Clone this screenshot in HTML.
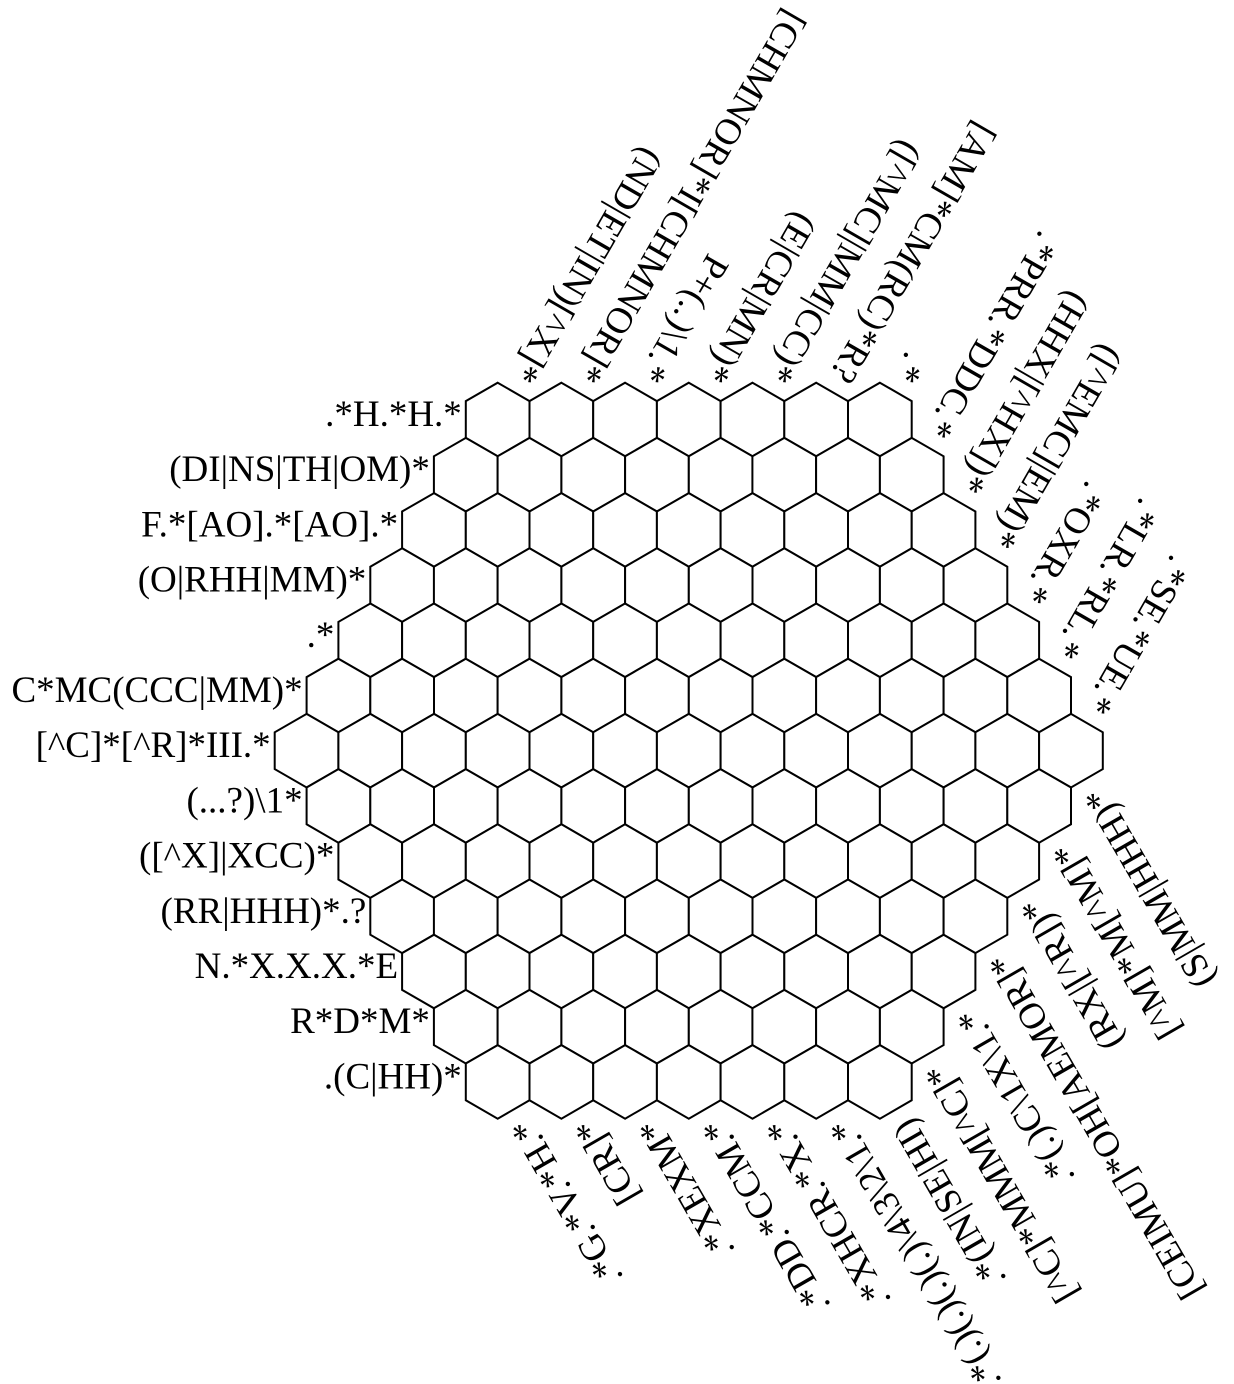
<!DOCTYPE html>
<html><head><meta charset="utf-8"><style>
html,body{margin:0;padding:0;background:#fff;}
svg{display:block;}
text{font-family:"Liberation Serif",serif;font-size:37px;fill:#000;}
</style></head><body>
<svg id="puzzle" width="1234" height="1384" viewBox="0 0 1234 1384" xmlns="http://www.w3.org/2000/svg">
<g id="cells"></g>
<g id="labels"></g>
</svg>
<script>
const leftClues = [".*H.*H.*","(DI|NS|TH|OM)*","F.*[AO].*[AO].*","(O|RHH|MM)*",".*","C*MC(CCC|MM)*","[^C]*[^R]*III.*","(...?)\\1*","([^X]|XCC)*","(RR|HHH)*.?","N.*X.X.X.*E","R*D*M*",".(C|HH)*"];
const topClues = ["(ND|ET|IN)[^X]*","[CHMNOR]*I[CHMNOR]*","P+(..)\\1.*","(E|CR|MN)*","([^MC]|MM|CC)*","[AM]*CM(RC)*R?",".*"];
const upperRightClues = [".*PRR.*DDC.*","(HHX|[^HX])*","([^EMC]|EM)*",".*OXR.*",".*LR.*RL.*",".*SE.*UE.*"];
const lowerRightClues = ["(S|MM|HHH)*","[^M]*M[^M]*","(RX|[^R])*","[CEIMU]*OH[AEMOR]*",".*(.)C\\1X\\1.*","[^C]*MMM[^C]*"];
const bottomClues = [".*G.*V.*H.*","[CR]*",".*XEXM*",".*DD.*CCM.*",".*XHCR.*X.*",".*(.)(.)(.)(.)\\4\\3\\2\\1.*",".*(IN|SE|HI)"];

const NS="http://www.w3.org/2000/svg";
const s=36.8, h=31.85, W=63.7, top0=382.7, step=55.2, left6=274.7;
const cells=document.getElementById('cells'), labels=document.getElementById('labels');
function rowLeft(r){return left6+h*Math.abs(r-6);}
function rowN(r){return 13-Math.abs(r-6);}
function cx(r,i){return rowLeft(r)+h+W*i;}
function rtop(r){return top0+step*r;}
for(let r=0;r<13;r++){
  for(let i=0;i<rowN(r);i++){
    const x=cx(r,i), t=rtop(r);
    const pts=[[x,t],[x+h,t+s/2],[x+h,t+1.5*s],[x,t+2*s],[x-h,t+1.5*s],[x-h,t+s/2]].map(p=>p[0].toFixed(1)+','+p[1].toFixed(1)).join(' ');
    const p=document.createElementNS(NS,'polygon');
    p.setAttribute('points',pts);
    p.setAttribute('fill','#fff');p.setAttribute('stroke','#000');p.setAttribute('stroke-width','2');
    
    
    cells.appendChild(p);
  }
}
function addText(str,x,y,rot,anchor){
  const t=document.createElementNS(NS,'text');
  t.textContent=str;
  t.setAttribute('x',x.toFixed(1));t.setAttribute('y',y.toFixed(1));
  t.setAttribute('text-anchor',anchor);
  t.setAttribute('dominant-baseline','central');
  if(rot) t.setAttribute('transform','rotate('+rot+' '+x.toFixed(1)+' '+y.toFixed(1)+')');
  
  
  labels.appendChild(t);
}
leftClues.forEach((c,r)=>{addText(c,rowLeft(r)-4,rtop(r)+s-5,0,'end');});
const A=14;
function topAnchor(r,i){const x=cx(r,i)+h/2, y=rtop(r)+s/4; return [x+A*0.5,y-A*0.866];}
function botAnchor(r,i){const x=cx(r,i)+h/2, y=rtop(r)+1.75*s; return [x+A*0.5,y+A*0.866];}
topClues.forEach((c,i)=>{const a=topAnchor(0,i);addText(c,a[0],a[1],120,'end');});
upperRightClues.forEach((c,k)=>{const r=k+1;const a=topAnchor(r,rowN(r)-1);addText(c,a[0],a[1],120,'end');});
lowerRightClues.forEach((c,k)=>{const r=k+6;const a=botAnchor(r,rowN(r)-1);addText(c,a[0],a[1],-120,'end');});
bottomClues.forEach((c,i)=>{const a=botAnchor(12,i);addText(c,a[0],a[1],-120,'end');});
</script>
</body></html>
